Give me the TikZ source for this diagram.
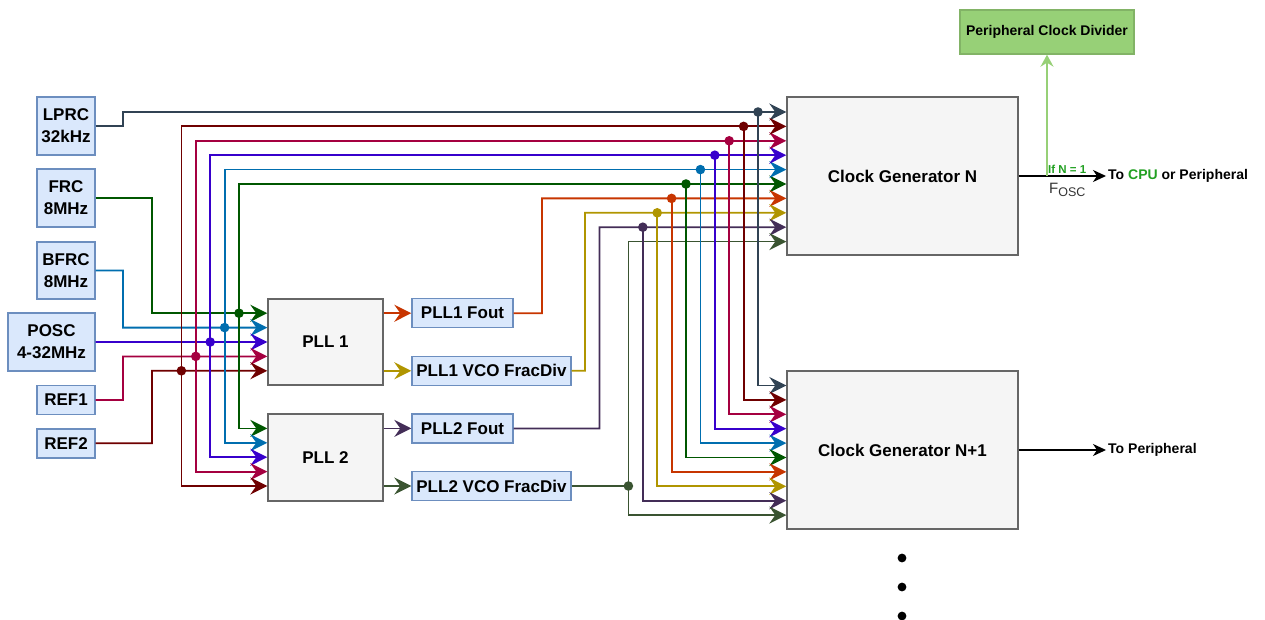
\documentclass[tikz,border=0pt]{standalone}
\usepackage{fontspec}
\setmainfont{Liberation Sans}
\usetikzlibrary{arrows.meta,calc}
\definecolor{cS}{HTML}{314354}
\definecolor{cM}{HTML}{6F0000}
\definecolor{cC}{HTML}{A50040}
\definecolor{cP}{HTML}{3700CC}
\definecolor{cB}{HTML}{006EAF}
\definecolor{cG}{HTML}{005700}
\definecolor{cO}{HTML}{C73500}
\definecolor{cY}{HTML}{B09500}
\definecolor{cD}{HTML}{432D57}
\definecolor{cL}{HTML}{3A5431}
\definecolor{srcF}{HTML}{DAE8FC}
\definecolor{srcB}{HTML}{6C8EBF}
\definecolor{blkF}{HTML}{F5F5F5}
\definecolor{blkB}{HTML}{666666}
\definecolor{pcdF}{HTML}{97D077}
\definecolor{pcdB}{HTML}{82B366}
\definecolor{cpuG}{HTML}{22A022}
\definecolor{foscC}{HTML}{333333}
\begin{document}
\begin{tikzpicture}[x=1pt,y=-1pt,
  lbl/.style={font=\fontsize{17}{22}\selectfont\bfseries, align=center, inner sep=0pt},
  srcbox/.style={lbl, draw=srcB, fill=srcF, line width=1.4pt},
  blkbox/.style={lbl, draw=blkB, fill=blkF, line width=1.4pt},
  wire/.style={line width=1.8pt},
  sig/.style={wire, -{Stealth[length=17pt,width=17pt,inset=6pt]}},
  outarrow/.style={line width=1.6pt, -{Stealth[length=13pt,width=12pt,inset=4pt]}},
  outtext/.style={anchor=west, inner sep=2pt, font=\fontsize{14}{17}\selectfont\bfseries},
]
\useasboundingbox (0,0) rectangle (1265,620);

% sources
\node[srcbox, minimum width=58pt, minimum height=58pt] (lprc) at (66,126) {LPRC\\32kHz};
\node[srcbox, minimum width=58pt, minimum height=58pt] (frc) at (66,198) {FRC\\8MHz};
\node[srcbox, minimum width=58pt, minimum height=57pt] (bfrc) at (66,270.5) {BFRC\\8MHz};
\node[srcbox, minimum width=87pt, minimum height=58pt] (posc) at (51.5,342) {POSC\\4-32MHz};
\node[srcbox, minimum width=58pt, minimum height=29pt] (ref1) at (66,400) {REF1};
\node[srcbox, minimum width=58pt, minimum height=29pt] (ref2) at (66,443.3) {REF2};

% PLLs and outputs
\node[blkbox, minimum width=115pt, minimum height=86pt] (pll1) at (325.5,342) {PLL 1};
\node[blkbox, minimum width=115pt, minimum height=87pt] (pll2) at (325.5,457.5) {PLL 2};
\node[srcbox, minimum width=101pt, minimum height=29pt] (pll1f) at (462.5,313.2) {PLL1 Fout};
\node[srcbox, minimum width=159pt, minimum height=29pt] (pll1v) at (491.5,370.8) {PLL1 VCO FracDiv};
\node[srcbox, minimum width=101pt, minimum height=29pt] (pll2f) at (462.5,428.4) {PLL2 Fout};
\node[srcbox, minimum width=159pt, minimum height=29pt] (pll2v) at (491.5,486) {PLL2 VCO FracDiv};

% clock generators
\node[blkbox, minimum width=231pt, minimum height=158pt] (cgn) at (902.5,176) {Clock Generator N};
\node[blkbox, minimum width=231pt, minimum height=158pt] (cgn1) at (902.5,450) {Clock Generator N+1};
\node[lbl, font=\fontsize{14}{17}\selectfont\bfseries, draw=pcdB, fill=pcdF, line width=1.4pt, minimum width=174pt, minimum height=44pt] (pcd) at (1047,32) {Peripheral Clock Divider};

% grid coordinates
\foreach \k in {0,...,9}{
  \coordinate (a\k) at ({758-14.4*\k},{112+14.4*\k});
  \coordinate (b\k) at ({758-14.4*\k},{385.5+14.4*\k});
}
\foreach \i in {0,...,4}{
  \coordinate (p\i) at ({239-14.4*\i},{313.2+14.4*\i});
  \coordinate (q\i) at ({239-14.4*\i},{428.4+14.4*\i});
}

% LPRC
\draw[sig,cS] (lprc.east) -| (123,112) -- (cgn.west |- a0);

% sources into PLL1
\draw[sig,cG] (frc.east) -| (152,313.2) -- (pll1.west |- p0);
\draw[sig,cB] (bfrc.east) -| (123,327.6) -- (pll1.west |- p1);
\draw[sig,cP] (posc.east) -- (pll1.west |- p2);
\draw[sig,cC] (ref1.east) -| (123,356.4) -- (pll1.west |- p3);
\draw[sig,cM] (ref2.east) -| (152,370.8) -- (pll1.west |- p4);

% buses
\foreach \i/\k/\c in {0/5/cG,1/4/cB,2/3/cP,3/2/cC,4/1/cM}{
  \draw[sig,\c] (p\i) |- (cgn.west |- a\k);
  \draw[sig,\c] (p\i) -- (q\i) -- (pll2.west |- q\i);
}

% PLL outputs
\draw[sig,cO] (pll1.east |- pll1f.west) -- (pll1f.west);
\draw[sig,cO] (pll1f.east) -| (542,198.4) -- (cgn.west |- a6);
\draw[sig,cY] (pll1.east |- pll1v.west) -- (pll1v.west);
\draw[sig,cY] (pll1v.east) -| (585,212.8) -- (cgn.west |- a7);
\draw[sig,cD] (pll2.east |- pll2f.west) -- (pll2f.west);
\draw[sig,cD] (pll2f.east) -| (599.5,227.2) -- (cgn.west |- a8);
\draw[sig,cL] (pll2.east |- pll2v.west) -- (pll2v.west);
\draw[wire,cL] (pll2v.east) -- (a9 |- pll2v.east);
\draw[sig,cL] (a9 |- pll2v.east) -- (a9) -- (cgn.west |- a9);

% drops to clock generator N+1
\foreach \k/\c in {0/cS,1/cM,2/cC,3/cP,4/cB,5/cG,6/cO,7/cY,8/cD,9/cL}{
  \draw[sig,\c] (a\k) -- (b\k) -- (cgn1.west |- b\k);
}

% junction dots
\foreach \k/\c in {0/cS,1/cM,2/cC,3/cP,4/cB,5/cG,6/cO,7/cY,8/cD}{
  \fill[\c] (a\k) circle (4.8pt);
}
\foreach \i/\c in {0/cG,1/cB,2/cP,3/cC,4/cM}{
  \fill[\c] (p\i) circle (4.8pt);
}
\fill[cL] (a9 |- pll2v.east) circle (4.8pt);

% outputs
\node[outtext] (tcpu) at (1106,176) {To \textcolor{cpuG}{CPU} or Peripheral};
\draw[outarrow] (cgn.east) -- (tcpu.west);
\draw[line width=1.6pt, pcdF, -{Stealth[length=12pt,width=13pt,inset=4pt]}] (pcd.south |- cgn.east) -- (pcd.south);
\node[font=\fontsize{11.5}{13}\selectfont\bfseries, text=cpuG, anchor=south west, inner sep=1pt] (ifn) at (1047,175) {If N = 1};
\node[anchor=north west, inner sep=0pt, text=foscC] (fosc) at (1049,183) {\fontsize{15}{17}\selectfont F\raisebox{-2.5pt}{\fontsize{12.5}{14}\selectfont OSC}};
\node[outtext] (tper) at (1106,450) {To Peripheral};
\draw[outarrow] (cgn1.east) -- (tper.west);

% continuation dots
\fill (902,558) circle (4.4pt);
\fill (902,587) circle (4.4pt);
\fill (902,616) circle (4.4pt);
\end{tikzpicture}
\end{document}
